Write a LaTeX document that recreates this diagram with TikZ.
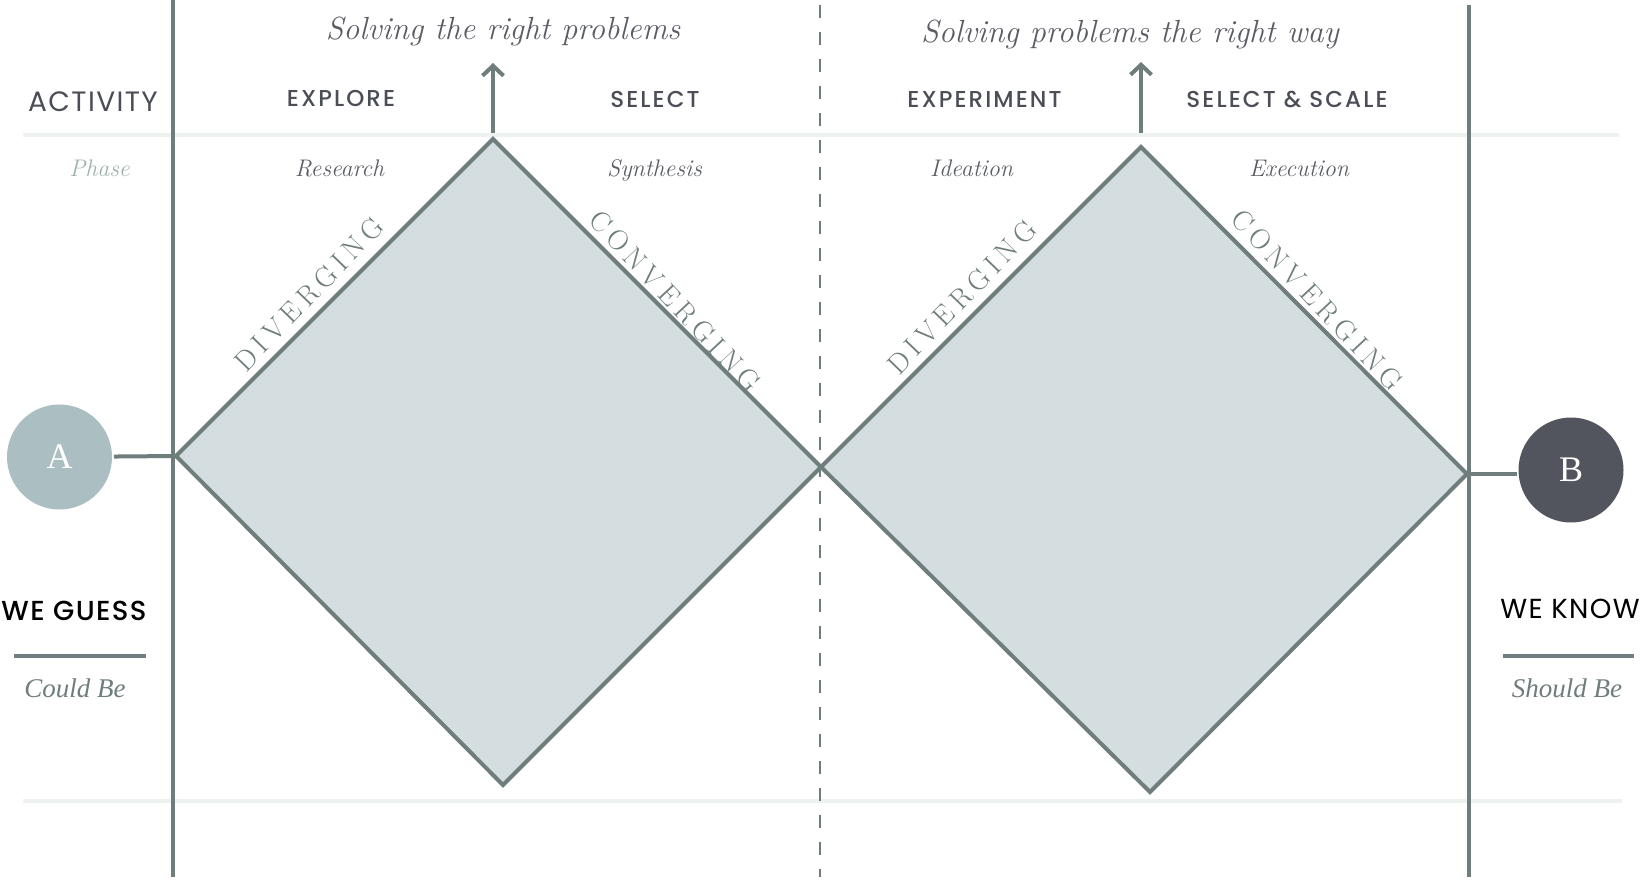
\documentclass[tikz,border=0pt]{standalone}
\usepackage{fontspec}
\setsansfont{Poppins}
\newfontfamily\medfont{Poppins Medium}[LetterSpace=9]
\newfontfamily\guessfont{Poppins Medium}[LetterSpace=5]
\newfontfamily\regfont{Poppins}[LetterSpace=5]
\newfontfamily\timesfont{Liberation Serif}
\usetikzlibrary{arrows.meta}

\definecolor{edgegrey}{HTML}{6F7D7D}
\definecolor{diamondfill}{HTML}{D4DDDF}
\definecolor{rulelight}{HTML}{EDF1F0}
\definecolor{circlea}{HTML}{ABBFC2}
\definecolor{circleb}{HTML}{52555E}
\definecolor{headgrey}{HTML}{4B4E57}
\definecolor{italgrey}{HTML}{5A5D64}
\definecolor{phasegreen}{HTML}{9DB3AC}

% spread the letters of a word
\makeatletter
\newcommand\spreadword[1]{\spread@loop#1\relax}
\def\spread@loop#1{\ifx\relax#1\unkern\else#1\kern5.5pt\expandafter\spread@loop\fi}
\makeatother

\tikzset{
  headtext/.style={font=\medfont\fontsize{23}{26}\selectfont, text=headgrey, anchor=base},
  phasetext/.style={font=\itshape\fontsize{24}{27}\selectfont, text=italgrey, anchor=base},
  goaltext/.style={font=\itshape\fontsize{32}{36}\selectfont, text=italgrey, anchor=base},
  edgetext/.style={font=\fontsize{28.5}{30}\selectfont, text=edgegrey, inner sep=0pt},
  diamond/.style={draw=edgegrey, fill=diamondfill, line width=4pt, line join=miter},
  endpoint/.style={circle, minimum size=105pt, inner sep=0pt, text=white,
    font=\timesfont\fontsize{36}{40}\selectfont},
}

\begin{document}
\begin{tikzpicture}[x=1pt, y=-1pt, >={Straight Barb[length=10pt, width=21pt]}, line width=4pt]
  \useasboundingbox (0,0) rectangle (1641,880);
  % light rules
  \draw[rulelight] (23,135) -- (1619,135);
  \draw[rulelight] (23,801) -- (1622,801);
  % diamond corners
  \coordinate (d1l) at (176,456);
  \coordinate (d1t) at (493,139);
  \coordinate (d1r) at (821,467);
  \coordinate (d1b) at (503,785);
  \coordinate (d2l) at (821,467);
  \coordinate (d2t) at (1141,147);
  \coordinate (d2r) at (1467,474);
  \coordinate (d2b) at (1150,792);
  \draw[diamond] (d1l) -- (d1t) -- (d1r) -- (d1b) -- cycle;
  \draw[diamond] (d2l) -- (d2t) -- (d2r) -- (d2b) -- cycle;
  % frame lines
  \draw[edgegrey] (172.5,0) -- (172.5,877);
  \draw[edgegrey] (1469,5) -- (1469,877);
  \draw[edgegrey, line width=2.7pt, dash pattern=on 13pt off 14pt] (820,5) -- (820,877);
  % arrows up
  \coordinate (up1) at (493,63);
  \coordinate (up2) at (1141,62);
  \draw[->, edgegrey] (493,133) -- (up1);
  \draw[->, edgegrey] (1141,133) -- (up2);
  % goals
  \node[goaltext] (goal1) at (503,40) {Solving the right problems};
  \node[goaltext] (goal2) at (1130,43) {Solving problems the right way};
  % activity row
  \node[font=\regfont\fontsize{28}{30}\selectfont, text=headgrey, anchor=base] (activity) at (93,111.5) {ACTIVITY};
  \node[headtext] (explore) at (341,107) {EXPLORE};
  \node[headtext] (select) at (655,108) {SELECT};
  \node[headtext] (experiment) at (984.5,108) {EXPERIMENT};
  \node[headtext] (scale) at (1287,108) {SELECT \& SCALE};
  % phase row
  \node[phasetext, text=phasegreen] (phase) at (99.5,176) {Phase};
  \node[phasetext] (research) at (339.5,176) {Research};
  \node[phasetext] (synthesis) at (654.5,176) {Synthesis};
  \node[phasetext] (ideation) at (971.5,176) {Ideation};
  \node[phasetext] (execution) at (1299,176) {Execution};
  % edge labels
  \node[edgetext, rotate=46] (div1) at (309,294) {\spreadword{DIVERGING}};
  \node[edgetext, rotate=-47] (conv1) at (675,301) {\spreadword{CONVERGING}};
  \node[edgetext, rotate=46] (div2) at (962,297) {\spreadword{DIVERGING}};
  \node[edgetext, rotate=-47] (conv2) at (1317,300) {\spreadword{CONVERGING}};
  % start and end
  \node[endpoint, fill=circlea] (A) at (59.5,457) {A};
  \node[endpoint, fill=circleb] (B) at (1571,470) {B};
  \draw[edgegrey] (A) -- (d1l);
  \draw[edgegrey] (d2r) -- (B.west |- d2r);
  % states
  \node[font=\guessfont\fontsize{27.5}{30}\selectfont, anchor=base] (guess) at (74,620) {WE GUESS};
  \node[font=\regfont\fontsize{27.5}{30}\selectfont, anchor=base] (know) at (1570,618) {WE KNOW};
  \draw[edgegrey] (14,656) -- (145.5,656);
  \draw[edgegrey] (1503,656) -- (1634,656);
  \node[font=\timesfont\itshape\fontsize{27}{30}\selectfont, text=edgegrey, anchor=base] (could) at (75,697) {Could Be};
  \node[font=\timesfont\itshape\fontsize{27}{30}\selectfont, text=edgegrey, anchor=base] (should) at (1567,697) {Should Be};
\end{tikzpicture}
\end{document}
